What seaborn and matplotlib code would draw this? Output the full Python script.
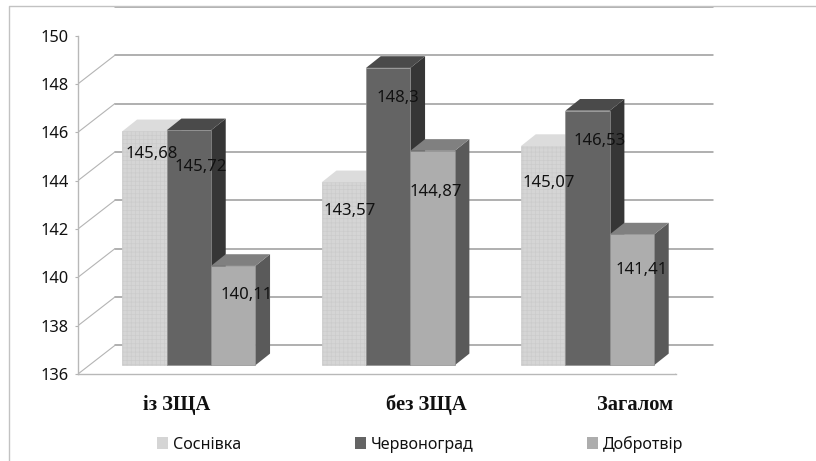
import matplotlib
matplotlib.use("Agg")
import matplotlib.pyplot as plt
from matplotlib.lines import Line2D
from matplotlib.patches import Patch, Polygon
from matplotlib.transforms import Affine2D
import pandas as pd
import seaborn as sns

# Values per site across the three sample groups
groups = ["із ЗЩА", "без ЗЩА", "Загалом"]
sites = ["Соснівка", "Червоноград", "Добротвір"]
sosnivka = [145.68, 143.57, 145.07]
chervonohrad = [145.72, 148.3, 146.53]
dobrotvir = [140.11, 144.87, 141.41]
value_labels = [["145,68", "143,57", "145,07"],
                ["145,72", "148,3", "146,53"],
                ["140,11", "144,87", "141,41"]]

# Bar face colours: front, top, right side
front_colors = ["#d5d5d5", "#646464", "#adadad"]
top_colors = ["#dcdcdc", "#4a4a4a", "#808080"]
side_colors = ["#c4c4c4", "#363636", "#5a5a5a"]

# Pixel nudges of the value labels from the top centre of each bar
label_nudges = [[(7, -23), (6, -29), (6, -37)],
                [(12, -37), (10, -30), (12, -30)],
                [(13, -29), (3, -41), (10, -36)]]

W, H = 816, 461
SANS = ["Noto Sans", "DejaVu Sans"]

sns.set_theme(style="white")
plt.rcParams["font.family"] = SANS
plt.rcParams["hatch.linewidth"] = 0.5

df = pd.DataFrame({
    "group": groups * 3,
    "site": [s for s in sites for _ in groups],
    "value": sosnivka + chervonohrad + dobrotvir,
})

fig = plt.figure(figsize=(W / 100, H / 100), dpi=100, facecolor="white")
# The axes rectangle is the front plane of the 3-D box
ax = fig.add_axes([78 / W, 1 - 374 / H, 598 / W, 338.5 / H])
sns.barplot(data=df, x="group", y="value", hue="site", order=groups, hue_order=sites,
            palette=front_colors, saturation=1, width=0.667, gap=0, dodge=True,
            legend=False, ax=ax)
ax.set_xlim(-0.5, 2.5)
ax.set_ylim(136, 150)
ax.set_facecolor("none")
ax.set_xlabel("")
ax.set_ylabel("")

PX_X = 598 / 3
PX_Y = 338.5 / 14


def plane(dx, dy):
    """Transform for a plane shifted in depth by a pixel offset."""
    return ax.transData + Affine2D().translate(dx, dy)


bar_plane = plane(11.2, 8.7)
back_plane = plane(37, 28.7)
DEPTH_X, DEPTH_Y = 14.7 / PX_X, 11.7 / PX_Y

# Box walls: back gridlines and the diagonals leading to them
ticks = list(range(136, 151, 2))
for v in ticks:
    ax.plot([-0.5, 2.5], [v, v], color="#9a9a9a", lw=1.1, transform=back_plane,
            clip_on=False, zorder=1)
    ax.add_line(Line2D([78, 115], [H - (374 - (v - 136) * PX_Y), H - (345.3 - (v - 136) * PX_Y)],
                       transform=None, color="#b4b4b4", lw=0.8, zorder=1))
ax.add_line(Line2D([676, 712], [H - 374, H - 345.3], transform=None,
                   color="#b4b4b4", lw=0.8, zorder=1))

# Extrude every bar: side and top faces, then the front on top of them
for i, bar in enumerate(ax.patches):
    series = i // 3
    x0, w = bar.get_x(), bar.get_width()
    top = bar.get_height()
    bar.set_y(136)
    bar.set_height(top - 136)
    bar.set_transform(bar_plane)
    bar.set_clip_on(False)
    z = 3 + x0 * 10 + 100
    bar.set_zorder(z + 0.2)
    x1 = x0 + w
    bar.set_edgecolor("#cbcbcb" if series == 0 else "#8f8f8f")
    bar.set_linewidth(0.5)
    if series == 0:
        bar.set_hatch("++++")
    side = Polygon([(x1, 136), (x1 + DEPTH_X, 136 + DEPTH_Y),
                    (x1 + DEPTH_X, top + DEPTH_Y), (x1, top)],
                   facecolor=side_colors[series], edgecolor="none",
                   transform=bar_plane, clip_on=False, zorder=z)
    cap = Polygon([(x0, top), (x0 + DEPTH_X, top + DEPTH_Y),
                   (x1 + DEPTH_X, top + DEPTH_Y), (x1, top)],
                  facecolor=top_colors[series], edgecolor="none",
                  transform=bar_plane, clip_on=False, zorder=z + 0.1)
    ax.add_patch(side)
    ax.add_patch(cap)
    g = (i % 3)
    ax.annotate(value_labels[series][g], xy=(x0 + w / 2, top), xycoords=bar_plane,
                xytext=label_nudges[series][g], textcoords="offset pixels",
                ha="center", va="center", fontsize=12, color="#111111",
                annotation_clip=False, zorder=500)

# Axis dressing
for name in ("top", "right"):
    ax.spines[name].set_visible(False)
for name in ("left", "bottom"):
    ax.spines[name].set_color("#b8b8b8")
    ax.spines[name].set_linewidth(1.0)
ax.set_yticks(ticks)
ax.tick_params(axis="y", length=2.2, width=0.8, color="#b4b4b4", pad=4.7,
               labelsize=11.8, labelcolor="#111111", left=True)
ax.set_xticks([-0.003, 1.246, 2.294])
ax.set_xticklabels(groups, family="Liberation Serif", fontweight="bold", fontsize=14.8,
                   color="#111111")
ax.tick_params(axis="x", length=0, pad=15)

# Chart frame along the top and left edges
fig.add_artist(Line2D([8.5 / W, 8.5 / W, 1], [0, 1 - 6.5 / H, 1 - 6.5 / H],
                      transform=fig.transFigure, color="#c2c2c2", lw=1.0))

handles = [Patch(facecolor=c, edgecolor="none", label=s) for c, s in zip(front_colors, sites)]
fig.legend(handles=handles, loc="center left", bbox_to_anchor=(157 / W, 1 - 444 / H),
           ncols=3, frameon=False, fontsize=11.5, labelcolor="#111111",
           handlelength=0.7, handleheight=0.7, handletextpad=0.3,
           columnspacing=7.1, borderpad=0, borderaxespad=0)

fig.savefig("out.png", dpi=100, facecolor="white")
